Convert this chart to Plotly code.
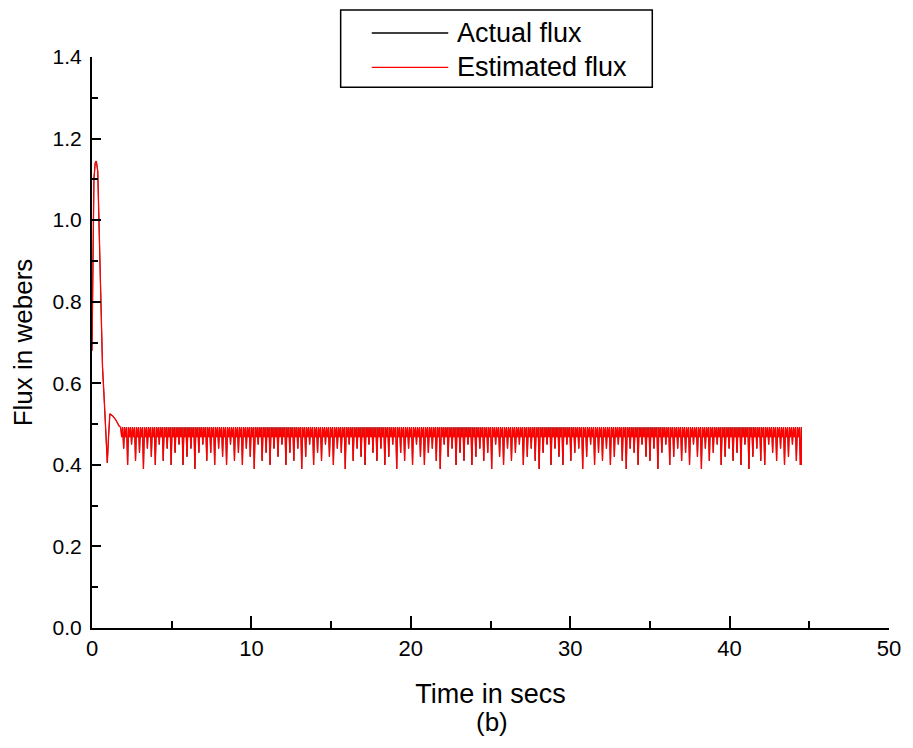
import plotly.graph_objects as go

# ---- data ----
# start-up transient (time in s, flux in Wb)
transient_t = [0.0, 0.06, 0.12, 0.2, 0.27, 0.36, 0.45, 0.55, 0.66, 0.78, 0.88, 0.96, 1.04, 1.12, 1.3, 1.5, 1.7]
transient_flux = [0.68, 0.92, 1.10, 1.14, 1.145, 1.12, 0.95, 0.76, 0.64, 0.55, 0.47, 0.405, 0.47, 0.525, 0.52, 0.51, 0.495]

# steady-state ripple: crest level, shallow dip level and trough depth of each ripple cycle
ripple_start = 1.8
ripple_end = 44.5
crest_level = 0.492
band_floor = 0.468
trough_values = [
    0.44, 0.40, 0.45, 0.41, 0.43, 0.39, 0.44, 0.42, 0.40, 0.45,
    0.41, 0.44, 0.40, 0.43, 0.45, 0.40, 0.42, 0.44, 0.39, 0.43,
    0.45, 0.41, 0.43, 0.40, 0.44, 0.42, 0.40, 0.45, 0.41, 0.43,
    0.40, 0.44, 0.42, 0.39, 0.45, 0.41, 0.43, 0.40, 0.44, 0.42,
    0.45, 0.40, 0.43, 0.41, 0.44, 0.39, 0.42, 0.45, 0.40, 0.43,
    0.41, 0.45, 0.42, 0.40, 0.44, 0.43, 0.39, 0.45, 0.41, 0.44,
    0.42, 0.40, 0.45, 0.43, 0.41, 0.44, 0.40, 0.42, 0.45, 0.39,
    0.43, 0.41, 0.44, 0.40, 0.45, 0.42, 0.40, 0.43, 0.44, 0.41,
    0.39, 0.45, 0.42, 0.44, 0.40, 0.43, 0.41, 0.45, 0.40, 0.42,
    0.44, 0.41, 0.43, 0.39, 0.45, 0.42, 0.40, 0.44, 0.41, 0.43,
    0.45, 0.40, 0.42, 0.44, 0.41, 0.39, 0.43, 0.45, 0.40, 0.44,
    0.42, 0.40, 0.45, 0.41, 0.43, 0.44, 0.39, 0.42, 0.45, 0.40,
    0.43, 0.41, 0.44, 0.40, 0.42, 0.45, 0.41, 0.39, 0.44, 0.43,
    0.40, 0.45, 0.42, 0.41, 0.44, 0.39, 0.43, 0.45, 0.40, 0.42,
    0.44, 0.41, 0.43, 0.40, 0.45, 0.42, 0.39, 0.44, 0.41, 0.43,
    0.45, 0.40, 0.42, 0.44, 0.41, 0.43, 0.40, 0.45, 0.39, 0.42,
    0.44, 0.41, 0.40, 0.45, 0.43, 0.41, 0.44, 0.40, 0.42, 0.45,
    0.41, 0.40,
]

x_ticks = [0, 10, 20, 30, 40, 50]
y_ticks = [0.0, 0.2, 0.4, 0.6, 0.8, 1.0, 1.2, 1.4]
y_tick_labels = ["0.0", "0.2", "0.4", "0.6", "0.8", "1.0", "1.2", "1.4"]

# ---- assemble series ----
n = len(trough_values)
period = (ripple_end - ripple_start) / n
t = list(transient_t)
flux = list(transient_flux)
for k, tr in enumerate(trough_values):
    t0 = ripple_start + k * period
    t.extend([t0, t0 + 0.25 * period, t0 + 0.5 * period, t0 + 0.75 * period])
    flux.extend([crest_level, band_floor, crest_level, tr])
t.append(ripple_end)
flux.append(crest_level)
t.append(ripple_end)
flux.append(trough_values[-1])

actual_flux = flux
estimated_flux = flux

FONT = "Arial, Liberation Sans, sans-serif"

fig = go.Figure()
fig.add_trace(go.Scatter(x=t, y=actual_flux, mode="lines", name="Actual flux",
                         line=dict(color="black", width=0.8), showlegend=False))
fig.add_trace(go.Scatter(x=t, y=estimated_flux, mode="lines", name="Estimated flux",
                         line=dict(color="#ff0000", width=1.3), showlegend=False))

# manual legend (box + samples + labels)
fig.add_shape(type="rect", xref="paper", yref="paper", x0=0.312, x1=0.703, y0=0.947, y1=1.0825,
              line=dict(color="black", width=1.5), fillcolor="white")
fig.add_shape(type="line", xref="paper", yref="paper", x0=0.351, x1=0.447, y0=1.042, y1=1.042,
              line=dict(color="black", width=1.3))
fig.add_shape(type="line", xref="paper", yref="paper", x0=0.351, x1=0.447, y0=0.982, y1=0.982,
              line=dict(color="#ff0000", width=1.3))
fig.add_annotation(xref="paper", yref="paper", x=0.455, y=1.042, text="Actual flux", showarrow=False,
                   xanchor="left", yanchor="middle", font=dict(family=FONT, size=27, color="black"))
fig.add_annotation(xref="paper", yref="paper", x=0.455, y=0.982, text="Estimated flux", showarrow=False,
                   xanchor="left", yanchor="middle", font=dict(family=FONT, size=27, color="black"))
fig.add_annotation(xref="paper", yref="paper", x=0.502, y=-0.165, text="(b)", showarrow=False,
                   xanchor="center", yanchor="middle", font=dict(family=FONT, size=26, color="black"))

fig.update_layout(
    width=905, height=740,
    margin=dict(l=84, r=16, t=49, b=120),
    paper_bgcolor="white", plot_bgcolor="white",
    font=dict(family=FONT, color="black"),
    xaxis=dict(range=[0, 50], tickvals=x_ticks, ticks="inside", ticklen=12, tickwidth=1.5,
               tickcolor="black", showline=True, linecolor="black", linewidth=2,
               showgrid=False, zeroline=False, mirror=False,
               minor=dict(dtick=5, ticks="inside", ticklen=7, tickwidth=1.5, tickcolor="black"),
               tickfont=dict(size=22, family=FONT),
               title=dict(text="Time in secs", font=dict(size=27, family=FONT), standoff=24)),
    yaxis=dict(range=[0, 1.4], tickvals=y_ticks, ticktext=y_tick_labels, ticks="inside", ticklen=9,
               tickwidth=1.5, tickcolor="black", showline=True, linecolor="black", linewidth=2,
               showgrid=False, zeroline=False, mirror=False,
               minor=dict(dtick=0.1, ticks="inside", ticklen=6, tickwidth=1.5, tickcolor="black"),
               tickfont=dict(size=21, family=FONT), ticklabelstandoff=4,
               title=dict(text="Flux in webers", font=dict(size=26, family=FONT), standoff=12)),
)

fig.write_html("out.html")
